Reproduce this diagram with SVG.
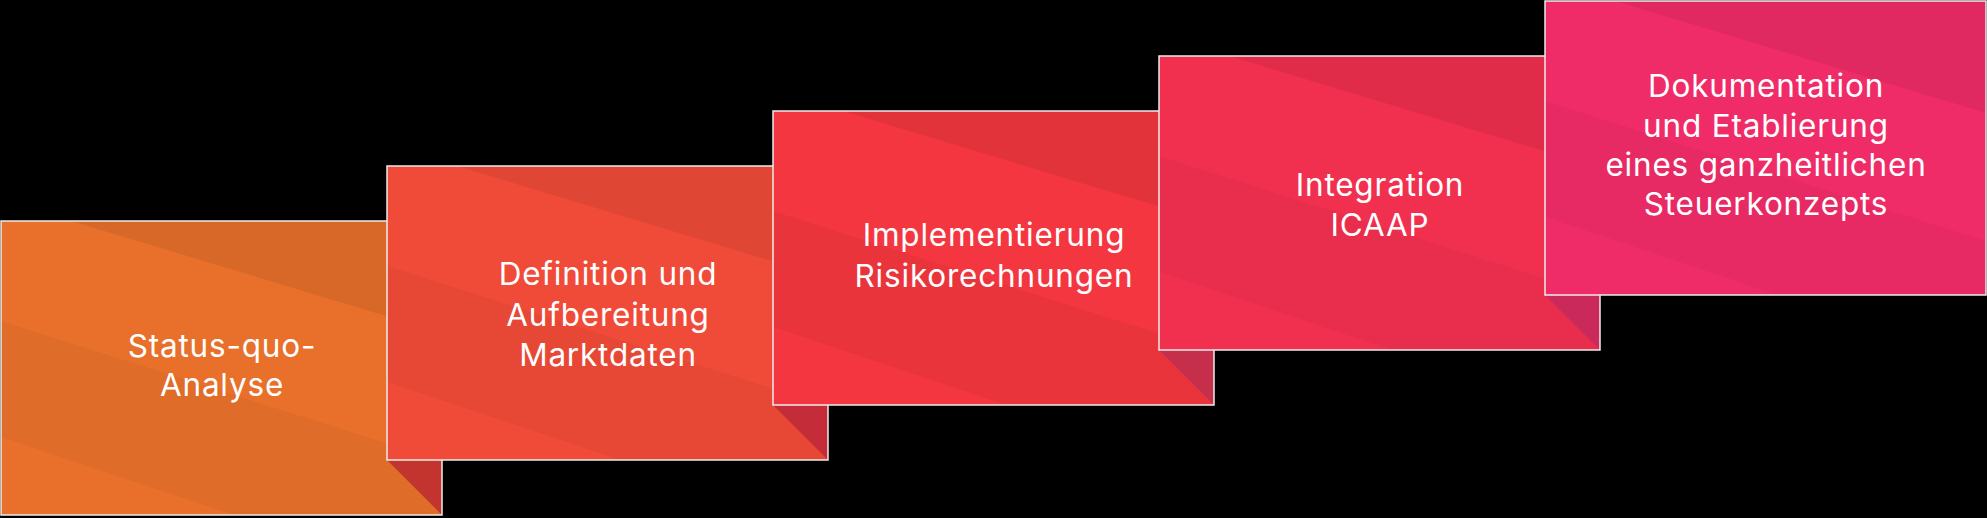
<svg xmlns="http://www.w3.org/2000/svg" width="1987" height="518" viewBox="0 0 1987 518">
<style>
.frame{fill:none;stroke:#ececec;stroke-width:1.5}
.lbl{font-family:Inter,"Liberation Sans",sans-serif;font-size:31.5px;font-weight:400;letter-spacing:0.8px;fill:#ffffff;text-anchor:middle}
.b1{fill:#000;opacity:.065}
.b2{fill:#000;opacity:.035}
</style>
<defs>
<clipPath id="clip" clipPathUnits="userSpaceOnUse"><rect width="441" height="294"/></clipPath>
<g id="bands">
<polygon class="b1" points="70,0 441,0 441,112"/>
<polygon class="b2" points="0,100 441,240 441,294 233,294 0,216"/>
</g>
</defs>
<rect width="1987" height="518" fill="#000"/>
<g id="connectors"/>
<g id="step1" transform="translate(1,221)">
<rect width="441" height="294" fill="#e8702b"/>
<g clip-path="url(#clip)"><use href="#bands"/></g>
<polygon points="386,239 441,239 441,294" fill="#c3342e"/>
<rect class="frame" width="441" height="294"/>
<text class="lbl"><tspan x="221" y="136">Status-quo-</tspan><tspan x="221" y="175">Analyse</tspan></text>
</g>
<g id="step2" transform="translate(387,166)">
<rect width="441" height="294" fill="#f04b38"/>
<g clip-path="url(#clip)"><use href="#bands"/></g>
<polygon points="386,239 441,239 441,294" fill="#c42c39"/>
<rect class="frame" width="441" height="294"/>
<text class="lbl"><tspan x="221" y="119">Definition und</tspan><tspan x="221" y="160">Aufbereitung</tspan><tspan x="221" y="200">Marktdaten</tspan></text>
</g>
<g id="step3" transform="translate(773,111)">
<rect width="441" height="294" fill="#f3363f"/>
<g clip-path="url(#clip)"><use href="#bands"/></g>
<polygon points="386,239 441,239 441,294" fill="#c62f4b"/>
<rect class="frame" width="441" height="294"/>
<text class="lbl"><tspan x="221" y="135">Implementierung</tspan><tspan x="221" y="176">Risikorechnungen</tspan></text>
</g>
<g id="step4" transform="translate(1159,56)">
<rect width="441" height="294" fill="#f1304f"/>
<g clip-path="url(#clip)"><use href="#bands"/></g>
<polygon points="386,239 441,239 441,294" fill="#c9295b"/>
<rect class="frame" width="441" height="294"/>
<text class="lbl"><tspan x="221" y="140">Integration</tspan><tspan x="221" y="180">ICAAP</tspan></text>
</g>
<g id="step5" transform="translate(1545,1)">
<rect width="441" height="294" fill="#f02c68"/>
<g clip-path="url(#clip)"><use href="#bands"/></g>
<rect class="frame" width="441" height="294"/>
<text class="lbl"><tspan x="221" y="96">Dokumentation</tspan><tspan x="221" y="136">und Etablierung</tspan><tspan x="221" y="175">eines ganzheitlichen</tspan><tspan x="221" y="214">Steuerkonzepts</tspan></text>
</g>
</svg>
